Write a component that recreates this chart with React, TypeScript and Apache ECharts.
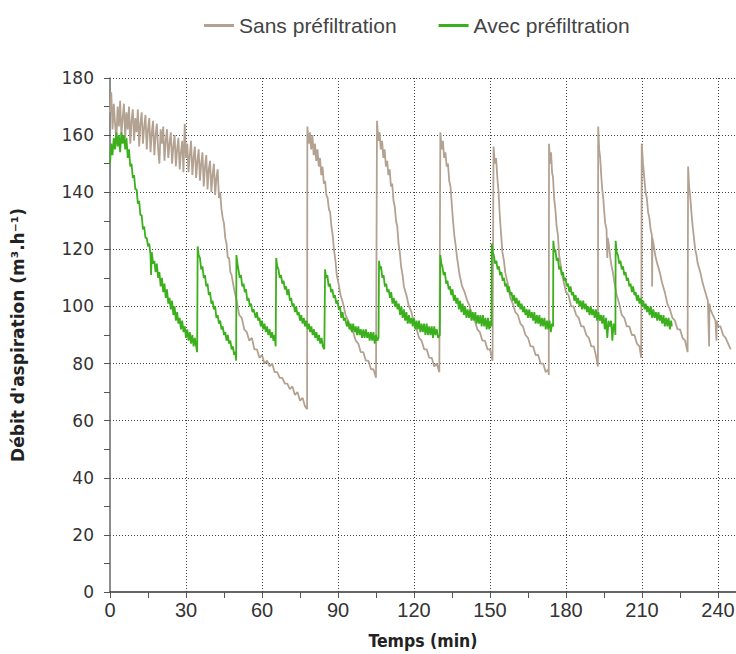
import React, { useEffect, useRef } from "react";
import * as echarts from "echarts";

const seriesNames = ["Sans préfiltration", "Avec préfiltration"];
const xTickLabels = [0, 30, 60, 90, 120, 150, 180, 210, 240];
const yTickLabels = [0, 20, 40, 60, 80, 100, 120, 140, 160, 180];

// [temps (min), débit (m³/h)]
const sansPrefiltration: [number, number][] = [
  [0,168],[0.5,175],[1,162],[1.5,171],[2,164],[2.5,158],[3,170],[3.5,163],[4,172],[4.5,160],[5,166],[5.5,171],[6,159],[6.5,168],[7,162],[7.5,170],[8,157],[8.5,165],[9,169],[9.5,158],[10,166],[10.5,161],[11,169],[11.5,156],[12,164],[12.5,168],[13,157],[13.5,163],[14,167],[14.5,155],[15,162],[15.5,166],[16,154],[16.5,161],[17,165],[17.5,153],[18,160],[18.5,164],[19,155],[19.5,150],[20,162],[20.5,157],[21,163],[21.5,151],[22,158],[22.5,162],[23,152],[23.5,157],[24,161],[24.5,150],[25,156],[25.5,160],[26,149],[26.5,155],[27,159],[27.5,148],[28,154],[28.5,158],[29,147],[29.5,164],[30,152],[30.5,157],[31,147],[31.5,153],[32,158],[32.5,146],[33,152],[33.5,156],[34,145],[34.5,151],[35,155],[35.5,144],[36,150],[36.5,154],[37,142],[37.5,149],[38,153],[38.5,141],[39,148],[39.5,151],[40,140],[40.5,146],[41,150],[41.5,139],[42,145],[42.5,148],[43,138],[43.5,140],[44,134],[44.5,131],[45,129],[45.5,124],[46,122],[46.5,117],[47,117],[47.5,112],[48,111],[49,106],[50,102],[51,97],[52,96],[53,92],[54,91],[55,88],[56,89],[57,85],[58,85],[59,82],[60,83],[61,80],[62,81],[63,79],[64,80],[65,77],[66,77],[67,75],[68,75],[69,73],[70,73],[71,71],[72,72],[73,69],[74,70],[75,67],[76,68],[77,65],[77.8,64],
  [77.9,163],[78.4,157],[78.9,161],[79.4,155],[79.9,160],[80.4,153],[80.9,157],[81.4,151],[81.9,155],[82.4,149],[82.9,152],[83.4,146],[83.9,149],[84.4,143],[84.9,144],[85.4,139],[85.9,138],[86.4,134],[86.9,133],[87.4,128],[87.9,125],[88.4,120],[89,116],[89.5,111],[90,109],[91,104],[92,101],[93,97],[94,95],[95,92],[96,91],[97,88],[98,87],[99,84],[100,84],[101,81],[102,81],[103,78],[104,78],[105,75],
  [105.4,165],[105.9,158],[106.4,161],[106.9,155],[107.4,158],[107.9,152],[108.4,155],[108.9,149],[109.4,151],[109.9,146],[110.4,148],[110.9,142],[111.4,143],[111.9,137],[112.4,135],[112.9,130],[113.4,128],[113.9,122],[114.4,119],[114.9,114],[115.5,111],[116,107],[117,104],[118,100],[119,98],[120,94],[121,92],[122,89],[123,88],[124,85],[125,85],[126,82],[127,82],[128,79],[129,80],[130,77],
  [130.4,161],[130.9,155],[131.4,158],[131.9,152],[132.4,154],[132.9,149],[133.4,150],[133.9,144],[134.4,142],[134.9,136],[135.4,130],[135.9,125],[136.5,121],[137,117],[137.5,114],[138,111],[139,107],[140,105],[141,102],[142,100],[143,96],[144,95],[145,92],[146,91],[147,88],[148,88],[149,85],[150,85],[151,81],
  [151.4,156],[151.9,150],[152.4,152],[152.9,145],[153.4,140],[153.9,131],[154.4,125],[154.9,119],[155.5,116],[156,112],[157,108],[158,103],[159,101],[160,98],[161,97],[162,94],[163,93],[164,90],[165,89],[166,86],[167,86],[168,83],[169,83],[170,80],[171,80],[172,77],[173,78],[173.2,76],
  [173.3,157],[173.7,150],[174.1,154],[174.5,147],[174.9,145],[175.3,138],[175.8,134],[176.3,128],[176.8,125],[177.3,118],[177.8,115],[178.5,111],[179,109],[180,105],[181,104],[182,100],[183,100],[184,97],[185,96],[186,93],[187,93],[188,90],[189,89],[190,86],[191,86],[192,82],[192.6,79],
  [192.7,163],[193.1,155],[193.5,152],[193.9,146],[194.3,141],[194.7,138],[195.1,133],[195.5,129],[196,127],[196.3,117],[196.5,124],[197,121],[197.5,117],[198,114],[198.5,112],[199,109],[200,104],[201,101],[202,97],[203,96],[204,93],[205,93],[206,90],[207,90],[208,87],[209,86],[209.7,82],
  [209.9,157],[210.4,150],[210.9,145],[211.4,140],[211.9,138],[212.4,133],[212.9,131],[213.4,127],[213.9,125],[214,107],[214.1,124],[214.7,121],[215.2,118],[216,115],[217,112],[218,108],[219,105],[220,101],[221,99],[222,96],[223,95],[224,92],[225,92],[226,89],[227,88],[228,84],
  [228.2,149],[228.6,142],[229,139],[229.5,133],[230,128],[230.5,124],[231,120],[231.5,118],[232,115],[233,112],[234,108],[235,105],[236,102],[236.5,86],[236.6,101],[237,99],[238,97],[239,95],[239.4,88],[239.5,95],[240,93],[241,93],[242,90],[243,89],[244,87],[245,85]
];

const avecPrefiltration: [number, number][] = [
  [0,150],[0.5,157],[1,153],[1.5,159],[2,155],[2.5,161],[3,156],[3.5,160],[4,154],[4.5,161],[5,157],[5.5,160],[6,155],[6.5,159],[7,152],[7.5,155],[8,149],[8.5,150],[9,145],[9.5,146],[10,141],[10.5,141],[11,136],[11.5,137],[12,132],[12.5,132],[13,127],[13.5,128],[14,124],[14.5,124],[15,121],[15.5,122],[16,118],[16.2,111],[16.5,119],[17,115],[17.5,116],[18,112],[18.5,115],[19,110],[19.5,112],[20,107],[20.5,110],[21,105],[21.5,108],[22,103],[22.5,106],[23,101],[23.5,103],[24,99],[24.5,102],[25,97],[25.5,100],[26,95],[26.5,98],[27,94],[27.5,96],[28,92],[28.5,95],[29,91],[29.5,93],[30,89],[30.5,92],[31,88],[31.5,91],[32,87],[32.5,90],[33,86],[33.5,89],[34,86],[34.4,84],
  [34.6,121],[35,118],[35.5,117],[36,113],[36.5,114],[37,110],[37.5,111],[38,107],[38.5,108],[39,104],[39.5,105],[40,101],[40.5,102],[41,99],[41.5,100],[42,96],[42.5,97],[43,94],[43.5,95],[44,92],[44.5,93],[45,90],[45.5,91],[46,88],[46.5,90],[47,87],[47.5,88],[48,85],[48.5,86],[49,83],[49.5,84],[49.8,81],
  [49.9,118],[50.3,115],[50.7,113],[51.2,110],[51.7,111],[52.2,107],[52.7,108],[53.2,105],[53.7,106],[54.2,102],[54.7,103],[55.2,100],[55.7,101],[56.2,98],[56.7,99],[57.5,96],[58,98],[58.5,95],[59,96],[59.5,93],[60,95],[60.5,92],[61,94],[61.5,91],[62,93],[62.5,90],[63,92],[63.5,89],[64,91],[64.5,88],[65,90],[65.4,86],
  [65.6,117],[66,114],[66.5,113],[67,110],[67.5,111],[68,108],[68.5,109],[69,106],[69.5,107],[70,104],[70.5,106],[71,102],[71.5,103],[72,100],[72.5,101],[73,98],[73.5,100],[74,97],[74.5,98],[75,95],[75.5,97],[76,94],[76.5,96],[77,93],[77.5,95],[78,92],[78.5,94],[79,91],[79.5,93],[80,90],[80.5,92],[81,89],[81.5,91],[82,88],[82.5,90],[83,87],[83.5,89],[84,86],[84.6,85],
  [84.9,113],[85.3,110],[85.8,111],[86.3,107],[86.8,108],[87.3,105],[87.8,106],[88.3,103],[88.8,104],[89.3,101],[89.8,102],[90.3,99],[90.8,100],[91.3,96],[91.8,98],[92.3,95],[92.8,96],[93.5,93],[94,95],[94.5,92],[95,94],[95.5,91],[96,94],[96.5,91],[97,93],[97.5,90],[98,93],[98.5,90],[99,92],[99.5,89],[100,92],[100.5,89],[101,92],[101.5,89],[102,91],[102.5,88],[103,91],[103.5,88],[104,91],[104.5,87],[105,90],[105.5,88],[106,89],
  [106.2,116],[106.6,113],[107,114],[107.5,110],[108,111],[108.5,107],[109,108],[109.5,105],[110,106],[110.5,103],[111,105],[111.5,101],[112,103],[112.5,100],[113,102],[113.5,99],[114,101],[114.5,97],[115,100],[115.5,96],[116,99],[116.5,95],[117,98],[117.5,94],[118,97],[118.5,94],[119,96],[119.5,93],[120,96],[120.5,92],[121,95],[121.5,92],[122,95],[122.5,91],[123,94],[123.5,91],[124,94],[124.5,90],[125,94],[125.5,90],[126,93],[126.5,90],[127,93],[127.5,89],[128,93],[128.5,90],[129,92],[129.5,89],[130.2,90],
  [130.4,118],[130.8,115],[131.2,114],[131.7,111],[132.2,112],[132.7,108],[133.2,109],[133.7,106],[134.2,107],[134.7,104],[135.2,106],[135.7,102],[136.2,104],[136.7,101],[137.2,103],[137.7,99],[138.2,102],[138.7,98],[139.2,101],[139.7,97],[140.2,100],[140.7,96],[141.2,99],[141.7,96],[142.2,99],[142.7,95],[143.2,98],[143.7,95],[144.2,98],[144.7,94],[145.2,97],[145.7,94],[146.2,97],[146.7,93],[147.2,97],[147.7,93],[148.2,96],[148.7,92],[149.2,96],[149.7,92],[150.2,95],[150.6,93],
  [150.7,122],[151.1,119],[151.5,118],[152,115],[152.5,116],[153,113],[153.5,114],[154,111],[154.5,112],[155,109],[155.5,110],[156,107],[156.5,108],[157,105],[157.5,107],[158,104],[158.5,105],[159,102],[159.5,104],[160,101],[160.5,103],[161,100],[161.5,102],[162,99],[162.5,101],[163,98],[163.5,100],[164,97],[164.5,99],[165,96],[165.5,99],[166,96],[166.5,98],[167,95],[167.5,98],[168,94],[168.5,97],[169,94],[169.5,97],[170,93],[170.5,96],[171,93],[171.5,96],[172,92],[172.5,95],[173,92],[173.5,95],[174,91],[174.5,94],[174.9,93],
  [175,123],[175.4,119],[175.8,120],[176.3,116],[176.8,117],[177.3,113],[177.8,114],[178.3,111],[178.8,112],[179.3,109],[179.8,110],[180.3,107],[180.8,108],[181.3,105],[181.8,107],[182.3,104],[182.8,105],[183.3,102],[183.8,104],[184.3,101],[184.8,103],[185.3,100],[185.8,102],[186.3,99],[186.8,102],[187.3,99],[187.8,101],[188.3,98],[188.8,100],[189.3,97],[189.8,100],[190.3,97],[190.8,99],[191.3,96],[191.8,99],[192.3,95],[192.8,98],[193.3,95],[193.8,97],[194.3,94],[194.8,97],[195.3,92],[195.8,96],[196.3,89],[196.8,95],[197.3,93],[197.8,95],[198.3,88],[198.8,94],[199.3,92],[199.5,90],
  [199.6,123],[200,119],[200.5,118],[201,115],[201.5,116],[202,113],[202.5,114],[203,111],[203.5,112],[204,109],[204.5,110],[205,107],[205.5,108],[206,105],[206.5,107],[207,104],[207.5,105],[208,102],[208.5,104],[209,101],[209.5,103],[210,100],[210.5,102],[211,99],[211.5,101],[212,98],[212.5,100],[213,97],[213.5,100],[214,96],[214.5,99],[215,96],[215.5,98],[216,95],[216.5,98],[217,95],[217.5,97],[218,94],[218.5,97],[219,93],[219.5,96],[220,93],[220.5,96],[221,92],[221.5,95],[221.8,93]
];

const COLORS = ["#b3a292", "#3cb01c"];

export default function App() {
  const ref = useRef<HTMLDivElement>(null);
  useEffect(() => {
    if (!ref.current) return;
    const chart = echarts.init(ref.current, undefined, { renderer: "svg" });
    const dotted = { type: [1, 2] as any, color: "#444", width: 1 };
    chart.setOption({
      animation: false,
      color: COLORS,
      legend: {
        data: seriesNames,
        left: 199,
        top: 10,
        icon: "rect",
        itemWidth: 30,
        itemHeight: 3,
        itemGap: 42,
        textStyle: { fontFamily: "Liberation Sans", fontSize: 21, color: "#444" },
      },
      grid: {
        left: 110,
        right: -20,
        top: 78,
        bottom: 62,
        containLabel: false,
        outerBoundsMode: "none",
      },
      xAxis: {
        type: "value",
        min: 0,
        max: 255,
        interval: 30,
        name: "Temps (min)",
        nameLocation: "middle",
        nameGap: 40,
        nameTextStyle: {
          fontFamily: "DejaVu Sans Condensed",
          fontWeight: "bold",
          fontSize: 17.5,
          color: "#222",
          padding: [0, 20, 0, 0],
        },
        axisLine: { lineStyle: { color: "#333", width: 1.5 } },
        axisTick: { show: true, inside: false, length: 6, lineStyle: { color: "#555" } },
        minorTick: { show: true, splitNumber: 2, length: 6, lineStyle: { color: "#555" } },
        axisLabel: {
          margin: 8,
          fontFamily: "Liberation Sans",
          fontSize: 20,
          color: "#333",
          formatter: (v: number) => (xTickLabels.includes(v) ? String(v) : ""),
        },
        splitLine: { show: true, showMinLine: false, lineStyle: dotted },
      },
      yAxis: {
        type: "value",
        min: 0,
        max: 180,
        interval: 20,
        name: "Débit d'aspiration (m³.h⁻¹)",
        nameLocation: "middle",
        nameGap: 84,
        nameTextStyle: { fontFamily: "DejaVu Sans", fontWeight: "bold", fontSize: 17, color: "#222" },
        axisLine: { show: true, lineStyle: { color: "#666", width: 1.5 } },
        axisTick: { show: true, inside: false, length: 6, lineStyle: { color: "#555" } },
        minorTick: { show: true, splitNumber: 2, length: 6, lineStyle: { color: "#555" } },
        axisLabel: {
          margin: 16,
          fontFamily: "DejaVu Sans",
          fontSize: 17,
          color: "#333",
          formatter: (v: number) => (yTickLabels.includes(v) ? String(v) : ""),
        },
        splitLine: { show: true, showMinLine: false, lineStyle: dotted },
      },
      series: [
        {
          name: seriesNames[0],
          type: "line",
          data: sansPrefiltration,
          showSymbol: false,
          symbol: "none",
          lineStyle: { width: 1.8, color: COLORS[0] },
          z: 2,
        },
        {
          name: seriesNames[1],
          type: "line",
          data: avecPrefiltration,
          showSymbol: false,
          symbol: "none",
          lineStyle: { width: 1.8, color: COLORS[1] },
          z: 3,
        },
      ],
    });
    return () => chart.dispose();
  }, []);
  return (
    <div
      ref={ref}
      style={{ position: "absolute", left: 0, top: 0, width: 736, height: 654 }}
    />
  );
}
